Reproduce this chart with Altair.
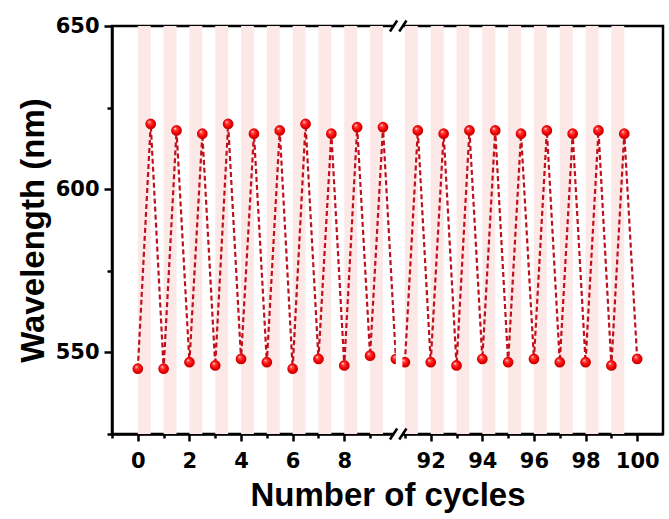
import altair as alt
import pandas as pd

# ---- data ----
left_cycles = [0, 0.5, 1, 1.5, 2, 2.5, 3, 3.5, 4, 4.5, 5, 5.5, 6, 6.5, 7, 7.5, 8, 8.5, 9, 9.5, 10]
left_values = [545, 620, 545, 618, 547, 617, 546, 620, 548, 617, 547, 618, 545, 620, 548, 617, 546, 619, 549, 619, 548]
right_cycles = [91, 91.5, 92, 92.5, 93, 93.5, 94, 94.5, 95, 95.5, 96, 96.5, 97, 97.5, 98, 98.5, 99, 99.5, 100]
right_values = [547, 618, 547, 617, 546, 618, 548, 618, 547, 617, 548, 618, 547, 617, 547, 618, 546, 617, 548]
band_starts = [0, 1, 2, 3, 4, 5, 6, 7, 8, 9, 91, 92, 93, 94, 95, 96, 97, 98, 99]
x_ticks_left = [-1, 0, 1, 2, 3, 4, 5, 6, 7, 8, 9]
x_ticks_right = [91, 92, 93, 94, 95, 96, 97, 98, 99, 100]
y_ticks = [525, 550, 575, 600, 625, 650]

# broken axis: cycles beyond the break are shifted left
SHIFT = 80.65
BREAK_LO, BREAK_HI = 10.0, 10.25
Y_MIN, Y_MAX = 525, 650


def xp(c):
    return c if c <= 10 else c - SHIFT


rows = []
for c, v in zip(left_cycles, left_values):
    rows.append({"cycle": c, "xp": xp(c), "wl": v, "seg": "a"})
for c, v in zip(right_cycles, right_values):
    rows.append({"cycle": c, "xp": xp(c), "wl": v, "seg": "b"})
df = pd.DataFrame(rows)

bands = pd.DataFrame({"x1": [xp(s) for s in band_starts],
                      "x2": [xp(s) + 0.5 for s in band_starts]})

gaps = pd.DataFrame({
    "x1": [BREAK_LO, 9.91, 9.91],
    "x2": [BREAK_HI, BREAK_HI, BREAK_HI],
    "y1": [Y_MIN, Y_MIN - 0.6, Y_MAX - 0.6],
    "y2": [Y_MAX, Y_MIN + 0.6, Y_MAX + 0.6],
})

slash_centers = [9.91, 10.27]
srows = []
for yc in (Y_MIN, Y_MAX):
    for xc in slash_centers:
        srows.append({"x1": xc - 0.14, "x2": xc + 0.14, "y1": yc - 1.7, "y2": yc + 1.7})
slashes = pd.DataFrame(srows)

xdom = [-1, 101 - SHIFT]
xscale = alt.Scale(domain=xdom, nice=False, zero=False)
yscale = alt.Scale(domain=[Y_MIN, Y_MAX], nice=False, zero=False)

cyc_expr = f"(datum.value > 10 ? round(datum.value + {SHIFT}) : round(datum.value))"

x_axis = alt.Axis(
    values=[xp(v) for v in x_ticks_left + x_ticks_right],
    tickCount=200,
    labelExpr=f"({cyc_expr} % 2 == 0 && datum.value >= 0) ? format({cyc_expr}, 'd') : ''",
    tickSize={"condition": {"test": f"{cyc_expr} % 2 == 0", "value": 7}, "value": 4},
    title="Number of cycles",
    titleY=71,
    titleBaseline="alphabetic",
    labelPadding=9,
    labelOverlap=False,
    labelFlush=False,
    grid=False,
)
y_axis = alt.Axis(
    values=y_ticks,
    tickCount=200,
    labelExpr="datum.value % 50 == 0 ? format(datum.value, 'd') : ''",
    tickSize={"condition": {"test": "datum.value % 50 == 0", "value": 8}, "value": 5},
    title="Wavelength (nm)",
    titleX=-69,
    titleBaseline="alphabetic",
    labelPadding=5,
    labelOverlap=False,
    labelFlush=False,
    grid=False,
)

band_layer = alt.Chart(bands).mark_rect(color="#fde8e8").encode(
    x=alt.X("x1:Q", scale=xscale, axis=x_axis),
    x2="x2:Q",
    y=alt.Y("y1:Q", scale=yscale, axis=y_axis),
    y2="y2:Q",
).transform_calculate(y1=str(Y_MIN), y2=str(Y_MAX))

line_layer = alt.Chart(df).mark_line(
    color="#c0101c", strokeWidth=2.2, strokeDash=[5, 3]
).encode(
    x="xp:Q", y="wl:Q", detail="seg:N", order="cycle:Q"
)

sphere = alt.RadialGradient(
    gradient="radial",
    stops=[
        alt.GradientStop(color="#ffffff", offset=0),
        alt.GradientStop(color="#ff4040", offset=0.25),
        alt.GradientStop(color="#f20000", offset=0.65),
        alt.GradientStop(color="#b00000", offset=1),
    ],
    x1=0.35, y1=0.3, r1=0, x2=0.5, y2=0.5, r2=0.55,
)
point_layer = alt.Chart(df).mark_point(
    shape="circle", filled=True, fill=sphere, size=115, strokeWidth=0, opacity=1
).encode(x="xp:Q", y="wl:Q")

gap_layer = alt.Chart(gaps).mark_rect(color="white").encode(
    x="x1:Q", x2="x2:Q", y="y1:Q", y2="y2:Q"
)

slash_layer = alt.Chart(slashes).mark_rule(color="black", strokeWidth=2.5).encode(
    x="x1:Q", x2="x2:Q", y="y1:Q", y2="y2:Q"
)

chart = alt.layer(
    band_layer, line_layer, point_layer, gap_layer, slash_layer
).properties(
    width=551, height=408,
    autosize=alt.AutoSizeParams(type="none"),
    padding={"left": 112, "top": 26, "right": 6, "bottom": 85},
    background="white",
).configure_view(
    stroke="black", strokeWidth=2.5
).configure_axis(
    domainColor="black", domainWidth=2.5,
    tickColor="black", tickWidth=2.5,
    labelFont="DejaVu Sans", labelFontWeight="bold", labelFontSize=21, labelColor="black",
    titleFont="Liberation Sans", titleFontWeight="bold", titleFontSize=33, titleColor="black",
)

chart.save("out.html", embed_options={"renderer": "svg", "actions": False})
